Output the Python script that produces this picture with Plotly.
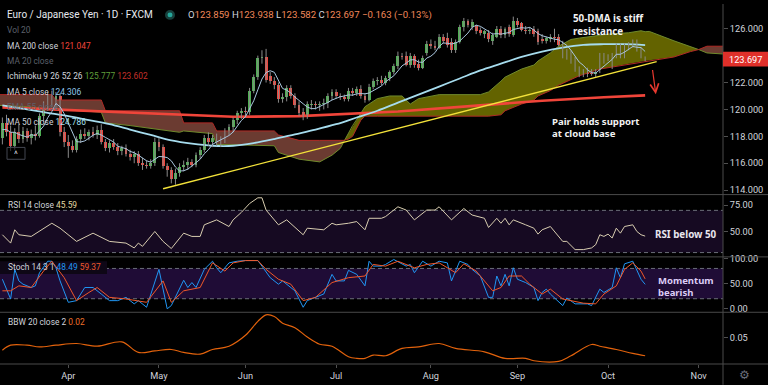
import plotly.graph_objects as go

# ---------------- data ----------------
# bar index 0 = 1 Apr 2020 (daily bars, weekdays only); last bar = 14 Oct 2020
bar_index = list(range(-16, 141))

opens = [117.9, 119.0, 118.3, 117.3, 118.3, 117.8, 118.4, 117.9, 118.2, 118.0, 119.5, 120.2, 121.0, 120.5, 121.0, 118.3,
         117.6, 117.3, 117.0, 117.8, 118.2, 118.0, 118.3, 118.1, 118.5, 117.6,
         117.1, 117.5, 117.2, 116.9, 117.1, 116.7, 116.5, 116.7, 116.0, 115.9,
         115.8, 116.0, 117.6, 117.2, 115.8, 115.5, 114.8, 115.3, 115.7, 115.9,
         116.1, 115.9, 116.6, 117.0, 117.9, 117.6, 117.9, 117.5, 117.8, 118.4,
         118.7, 119.2, 119.7, 119.9, 119.8, 121.4, 122.4, 123.8, 123.9, 122.5,
         122.1, 121.8, 120.8, 120.9, 121.6, 121.0, 120.3, 119.8, 119.5, 120.35,
         120.4, 120.3, 120.4, 120.5, 121.0, 121.3, 121.0, 120.9, 120.8, 121.4,
         121.2, 121.5, 121.0, 120.7, 121.7, 122.1, 122.2, 122.0, 122.3, 122.8,
         123.2, 124.0, 124.0, 123.3, 124.0, 123.4, 123.1, 124.2, 124.9, 124.7,
         124.6, 125.4, 125.3, 125.0, 124.4, 125.0, 126.1, 126.6, 126.1, 126.2,
         125.9, 125.6, 125.7, 125.1, 125.4, 126.0, 125.5, 126.1, 125.5, 126.6,
         126.4, 125.9, 125.8, 126.0, 125.8, 125.2, 125.1, 125.2, 125.4, 125.4,
         124.9, 124.0, 124.2, 123.7, 123.0, 122.7, 122.9, 122.7, 122.6, 122.9,
         123.6, 123.9, 123.3, 124.0, 124.7, 124.0, 124.7, 124.8, 125.0, 124.4,
         123.859]
highs = [119.4, 119.6, 118.8, 118.6, 118.9, 118.7, 118.6, 118.5, 118.8, 119.7, 120.6, 121.3, 121.4, 121.3, 121.2, 118.7,
         118.1, 117.7, 118.0, 118.5, 118.6, 118.5, 118.7, 118.8, 118.9, 117.8,
         117.7, 117.8, 117.5, 117.3, 117.4, 117.0, 116.9, 116.9, 116.4, 116.2,
         116.3, 117.9, 117.9, 117.4, 116.0, 115.7, 115.6, 116.0, 116.2, 116.4,
         116.3, 116.8, 117.2, 118.1, 118.3, 118.1, 118.2, 118.0, 118.6, 118.9,
         119.4, 119.9, 120.1, 120.2, 121.6, 122.6, 124.0, 124.4, 124.5, 122.8,
         122.4, 122.0, 121.2, 121.8, 121.8, 121.2, 120.6, 120.1, 120.6, 120.7,
         120.6, 120.6, 120.8, 121.2, 121.5, 121.5, 121.2, 121.1, 121.6, 121.6,
         121.7, 121.8, 121.2, 121.9, 122.3, 122.4, 122.5, 122.5, 122.9, 123.4,
         124.3, 124.2, 124.3, 124.2, 124.1, 123.7, 124.0, 125.1, 125.2, 125.1,
         125.6, 125.6, 125.7, 125.3, 125.2, 126.3, 126.8, 126.7, 126.7, 126.3,
         126.1, 125.9, 125.9, 125.7, 126.2, 126.2, 126.1, 126.3, 126.9, 126.8,
         126.5, 126.2, 126.1, 126.2, 126.0, 125.6, 125.4, 125.6, 126.0, 125.6,
         125.1, 124.5, 124.4, 123.9, 123.2, 123.0, 123.1, 123.0, 123.0, 124.2,
         124.2, 124.1, 124.2, 124.9, 124.9, 124.9, 125.0, 125.2, 125.2, 124.6,
         123.938]
lows = [117.4, 118.0, 116.9, 117.0, 117.5, 117.5, 117.6, 117.4, 117.7, 117.9, 119.1, 119.9, 120.2, 120.0, 118.0, 117.2,
        116.4, 116.8, 116.8, 117.5, 117.8, 117.7, 117.9, 117.8, 117.4, 116.9,
        116.8, 117.0, 116.6, 116.6, 116.5, 116.2, 116.0, 115.8, 115.5, 115.6,
        115.6, 115.8, 116.9, 115.6, 115.0, 114.5, 114.4, 115.0, 115.4, 115.5,
        115.7, 115.7, 116.3, 116.8, 117.3, 117.2, 117.3, 117.2, 117.5, 118.1,
        118.3, 118.9, 119.3, 119.4, 119.6, 121.2, 122.2, 123.4, 122.0, 121.9,
        121.5, 120.5, 120.5, 120.6, 120.8, 120.1, 119.5, 119.2, 119.3, 120.0,
        120.0, 119.9, 120.0, 120.1, 120.7, 120.8, 120.7, 120.6, 120.6, 121.0,
        121.0, 120.8, 120.5, 120.6, 121.5, 121.8, 121.8, 121.8, 122.1, 122.6,
        123.0, 123.7, 123.2, 123.1, 123.1, 122.9, 123.0, 124.0, 124.5, 124.4,
        124.5, 124.9, 124.6, 124.2, 124.2, 124.9, 125.8, 126.1, 125.9, 125.6,
        125.5, 125.3, 125.0, 124.8, 125.3, 125.3, 125.3, 125.4, 125.4, 126.1,
        125.8, 125.6, 125.6, 125.4, 124.8, 124.9, 124.9, 125.0, 125.0, 124.7,
        123.8, 123.7, 123.4, 122.8, 122.4, 122.4, 122.4, 122.5, 122.4, 122.7,
        123.4, 123.6, 123.0, 123.8, 123.8, 123.8, 124.4, 124.6, 124.3, 123.8,
        123.582]
closes = [119.0, 118.3, 117.3, 118.3, 117.8, 118.4, 117.9, 118.2, 118.0, 119.5, 120.2, 121.0, 120.5, 121.0, 118.3, 117.6,
          117.3, 117.0, 117.8, 118.2, 118.0, 118.3, 118.1, 118.5, 117.6, 117.1,
          117.5, 117.2, 116.9, 117.1, 116.7, 116.5, 116.7, 116.0, 115.9, 115.8,
          116.0, 117.6, 117.2, 115.8, 115.5, 114.8, 115.3, 115.7, 115.9, 116.1,
          115.9, 116.6, 117.0, 117.9, 117.6, 117.9, 117.5, 117.8, 118.4, 118.7,
          119.2, 119.7, 119.9, 119.8, 121.4, 122.4, 123.8, 123.9, 122.2, 122.1,
          121.8, 120.8, 120.9, 121.6, 121.0, 120.3, 119.7, 119.5, 120.4, 120.42,
          120.3, 120.4, 120.5, 121.0, 121.3, 121.0, 120.9, 120.8, 121.4, 121.2,
          121.5, 121.0, 120.7, 121.7, 122.1, 122.2, 122.0, 122.3, 122.8, 123.2,
          124.0, 123.9, 123.3, 124.0, 123.3, 123.1, 123.8, 124.9, 124.7, 124.6,
          125.4, 125.1, 124.8, 124.4, 125.0, 126.1, 126.6, 126.3, 126.5, 125.8,
          125.7, 125.8, 125.2, 125.5, 126.0, 125.5, 126.0, 125.6, 126.6, 126.3,
          125.9, 125.8, 125.9, 125.6, 125.0, 125.1, 125.3, 125.4, 125.3, 124.8,
          124.0, 124.3, 123.6, 123.0, 122.7, 122.8, 122.6, 122.6, 122.8, 124.0,
          124.0, 123.8, 124.0, 124.7, 124.0, 124.8, 124.9, 125.0, 124.4, 123.9,
          123.697]

ma5 = [118.5, 118.5, 118.3, 118.3, 118.14, 118.02, 117.94, 118.12, 118.06, 118.4, 118.76, 119.38, 119.84, 120.44, 120.2, 119.68,
       118.94, 118.24, 117.6, 117.58, 117.66, 117.86, 118.08, 118.22, 118.1, 117.92,
       117.76, 117.58, 117.26, 117.16, 117.08, 116.88, 116.78, 116.6, 116.36, 116.18,
       116.08, 116.26, 116.5, 116.48, 116.42, 116.18, 115.72, 115.42, 115.44, 115.56,
       115.78, 116.04, 116.3, 116.7, 117.0, 117.4, 117.58, 117.74, 117.84, 118.06,
       118.32, 118.76, 119.18, 119.46, 120.0, 120.64, 121.46, 122.26, 122.74, 122.88,
       122.76, 122.16, 121.56, 121.44, 121.22, 120.92, 120.7, 120.42, 120.18, 120.06,
       120.06, 120.2, 120.4, 120.52, 120.7, 120.84, 120.94, 121.0, 121.08, 121.06,
       121.16, 121.18, 121.16, 121.22, 121.4, 121.54, 121.74, 122.06, 122.28, 122.5,
       122.86, 123.24, 123.44, 123.68, 123.7, 123.52, 123.5, 123.82, 123.96, 124.22,
       124.68, 124.94, 124.92, 124.86, 124.94, 125.08, 125.38, 125.68, 126.1, 126.26,
       126.18, 126.02, 125.8, 125.6, 125.64, 125.6, 125.64, 125.72, 125.94, 126.0,
       126.08, 126.04, 126.1, 125.9, 125.64, 125.48, 125.38, 125.28, 125.22, 125.18,
       124.96, 124.76, 124.4, 123.94, 123.52, 123.28, 122.94, 122.74, 122.7, 122.96,
       123.2, 123.44, 123.72, 124.1, 124.1, 124.26, 124.48, 124.68, 124.62, 124.6,
       124.306]

ma50_idx = [-16, -10, -5, 0, 5, 10, 15, 20, 25, 30, 35, 40, 45, 50, 55, 60, 65, 70, 75, 80,
            85, 90, 95, 100, 105, 110, 115, 120, 125, 130, 135, 140]
ma50_val = [120.3, 120.0, 119.75, 119.5, 119.2, 118.9, 118.5, 118.1, 117.7, 117.45, 117.3, 117.3, 117.5, 117.8,
            118.15, 118.5, 118.9, 119.4, 119.9, 120.5, 121.1, 121.7, 122.3, 122.9, 123.4, 123.9, 124.3, 124.6,
            124.8, 124.85, 124.85, 124.786]

ma200_idx = [-16, 0, 20, 40, 56, 80, 100, 115, 130, 140]
ma200_val = [120.15, 119.95, 119.65, 119.45, 119.5, 119.85, 120.3, 120.65, 120.9, 121.047]

# Ichimoku leading spans (already shifted 26 bars forward)
cloud_idx = [-17, -10, -4, -3, 8, 9, 15, 27, 28, 35, 36, 50, 51, 56, 61, 64, 66, 67, 68, 69, 71, 72, 75, 78,
             81, 83, 85, 90, 100, 102, 105, 106, 110, 113, 114, 117, 119, 122, 124, 129, 131, 136, 139, 140,
             141, 147, 151, 153, 155, 160]
lead_a = [120.3, 120.2, 120.0, 120.0, 119.8, 119.0, 118.8, 118.3, 118.4, 118.2, 117.4, 117.3, 116.8, 116.3,
          116.1, 116.6, 117.1, 117.7, 118.2, 118.8, 119.7, 120.2, 120.8, 121.0, 121.0, 120.4, 120.8, 121.1,
          121.1, 121.3, 122.1, 122.4, 123.0, 123.3, 123.6, 124.2, 124.7, 125.2, 125.3, 125.5, 125.6, 125.7,
          125.85, 125.777, 125.8, 125.1, 124.7, 124.45, 124.2, 124.1]
lead_b = [121.1, 121.1, 121.1, 120.7, 120.7, 119.9, 119.9, 119.9, 119.0, 119.0, 118.4, 118.4, 118.1, 117.7,
          117.7, 117.7, 117.7, 117.7, 117.8, 118.0, 119.2, 119.5, 119.5, 119.5, 119.5, 119.5, 119.5, 119.5,
          119.5, 119.5, 119.6, 119.9, 120.4, 120.7, 121.0, 121.4, 121.8, 122.2, 122.5, 123.0, 123.1, 123.4,
          123.55, 123.602, 123.65, 123.9, 124.3, 124.45, 124.7, 124.7]

trend_idx = [23, 142.8]
trend_val = [114.1, 123.55]
arrow_idx = [141.75, 142.6]
arrow_val = [123.04, 121.13]

rsi_idx = [-16, -14, -13, -12, -9, -4, -2, 2, 6, 10, 14, 16, 17, 18, 21, 23, 25, 28, 30, 32,
           33, 36, 39, 40, 42, 44, 46, 47, 48, 51, 53, 57, 58, 62, 64, 65, 68, 70, 72, 73,
           76, 77, 80, 82, 84, 87, 89, 90, 93, 96, 98, 101, 102, 104, 105, 106, 107, 108, 111, 113,
           114, 115, 117, 120, 121, 123, 125, 127, 128, 129, 130, 131, 132, 133, 134, 135, 137, 138, 139, 140]
rsi_val = [46.9, 39.0, 51.6, 46.9, 45.3, 57.8, 53.1, 40.6, 48.4, 40.6, 39.0, 34.4, 39.0, 35.9, 50.0, 40.6, 33.8, 48.4, 45.3, 45.3,
           56.3, 61.0, 54.7, 61.0, 68.1, 76.5, 81.9, 81.9, 70.3, 56.3, 61.0, 46.9, 53.1, 51.6, 57.8, 56.3, 57.8, 59.4, 51.6, 62.5,
           62.5, 64.1, 73.4, 70.3, 61.0, 70.3, 70.3, 73.4, 61.0, 71.8, 65.6, 62.5, 53.8, 62.5, 57.8, 62.5, 56.3, 61.0, 56.3, 53.1,
           47.5, 51.6, 54.7, 40.6, 40.6, 32.8, 32.8, 34.4, 37.5, 46.9, 45.3, 47.5, 43.8, 53.1, 48.4, 54.7, 56.3, 50.0, 46.9, 45.59]

stoch_k_idx = [-16, -14, -13, -12, -11, -9, -8, -7, -5, -4, -3, -2, 0, 2, 4, 6, 8, 10, 12, 14,
               16, 17, 19, 22, 24, 25, 28, 29, 30, 31, 33, 35, 36, 37, 39, 41, 43, 46, 47, 49,
               51, 52, 55, 57, 58, 60, 62, 64, 65, 67, 68, 70, 72, 73, 74, 76, 77, 79, 82, 83,
               84, 86, 88, 90, 92, 93, 95, 97, 98, 100, 102, 103, 104, 105, 106, 107, 108, 109, 111, 113,
               114, 115, 116, 117, 120, 121, 122, 123, 126, 127, 129, 130, 132, 133, 134, 135, 137, 139, 140]
stoch_k_val = [58.6, 19.5, 78.1, 55.3, 48.8, 42.2, 45.5, 71.5, 94.3, 94.3, 81.3, 55.3, 12.9, 16.2, 42.2, 42.2, 29.3, 16.2, 16.2, 22.7,
               9.8, 16.2, 3.1, 78.1, 0.0, 6.4, 56.6, 42.2, 52.0, 42.2, 78.1, 94.3, 81.3, 71.5, 91.0, 94.3, 95.6, 95.6, 84.6, 61.7,
               48.8, 55.3, 35.7, 3.1, 16.2, 22.7, 29.3, 68.3, 55.3, 55.3, 76.2, 68.3, 45.5, 94.3, 84.6, 84.6, 87.9, 97.7, 84.6, 87.9,
               71.5, 94.3, 84.6, 94.3, 91.0, 55.3, 94.3, 87.9, 78.1, 65.0, 22.7, 22.7, 65.0, 45.5, 68.3, 45.5, 81.3, 58.6, 52.0, 42.2,
               16.2, 32.4, 39.0, 29.3, 6.4, 21.5, 16.2, 9.8, 9.8, 6.4, 39.0, 32.4, 42.2, 81.3, 61.7, 89.1, 94.3, 58.6, 48.49]

stoch_d_idx = [-16, -14, -12, -9, -6, -4, -1, 2, 5, 7, 10, 14, 19, 23, 25, 28, 32, 35, 38, 40,
               43, 46, 48, 51, 54, 57, 60, 64, 68, 72, 74, 77, 80, 84, 87, 90, 94, 96, 99, 103,
               105, 107, 110, 112, 115, 117, 120, 122, 125, 128, 130, 133, 135, 137, 139, 140]
stoch_d_val = [35.7, 35.7, 45.5, 42.2, 74.8, 94.3, 61.7, 16.2, 32.4, 42.2, 22.7, 19.5, 12.9, 55.3, 12.9, 35.7, 42.2, 91.0, 74.8, 91.0,
               95.6, 95.6, 78.1, 58.6, 48.8, 16.2, 22.7, 52.0, 61.7, 65.0, 87.9, 84.6, 94.3, 81.3, 87.9, 91.0, 71.5, 89.1, 74.8, 35.7,
               42.2, 65.0, 65.0, 48.8, 29.3, 39.0, 19.5, 16.2, 11.2, 9.8, 29.3, 45.5, 78.1, 91.0, 74.8, 59.37]

bbw_idx = [-16, -14, -10, -7, -3, 2, 7, 13, 17, 21, 25, 28, 32, 35, 39, 43, 46, 48, 50, 52,
           55, 58, 61, 64, 68, 70, 72, 74, 77, 81, 85, 90, 94, 101, 106, 111, 113, 119, 122, 127,
           129, 133, 137, 140]
bbw_val = [0.0324, 0.0396, 0.0396, 0.0371, 0.0396, 0.042, 0.0381, 0.0443, 0.0291, 0.0314, 0.0334, 0.0291, 0.0267, 0.0334,
           0.0381, 0.0539, 0.0739, 0.0834, 0.081, 0.0714, 0.0649, 0.0514, 0.041, 0.0381, 0.0229, 0.0206, 0.0206, 0.0253,
           0.0243, 0.0349, 0.0371, 0.042, 0.0349, 0.03, 0.0206, 0.0206, 0.0171, 0.0163, 0.0243, 0.0406, 0.0381, 0.0334,
           0.0277, 0.0243]

month_idx = [0, 22, 43, 65, 88, 109, 131, 153]
month_lbl = ["Apr", "May", "Jun", "Jul", "Aug", "Sep", "Oct", "Nov"]
price_ticks = [114, 116, 118, 120, 122, 126]
last_price = 123.697

# ---------------- style ----------------
W, H = 768, 385
PW, PH = 723, 364            # plot area in pixels
BG = "#000000"
TXT = "#d1d4dc"
DIM = "#5d606b"
UP = "#4caf50"
DN = "#f0433a"
WICK = "#8a8a8a"
OLIVE = "#636300"
BROWN = "#6b3b31"
FONT = "Roboto, sans-serif"
NOTE = "Noto Sans, sans-serif"
AX = 9.2     # axis label size
LG = 8.4     # legend size


def px(x):
    return x / PW


def py(y):
    return (PH - y) / PH


fig = go.Figure()

# ---- Ichimoku cloud ----
cross = [k for k in range(len(cloud_idx)) if abs(lead_a[k] - lead_b[k]) < 1e-9]
bounds = [0] + cross + [len(cloud_idx) - 1]
for s, e in zip(bounds[:-1], bounds[1:]):
    xs = cloud_idx[s:e + 1]
    a = lead_a[s:e + 1]
    b = lead_b[s:e + 1]
    bull = sum(a) > sum(b)
    fig.add_trace(go.Scatter(x=xs + xs[::-1], y=a + b[::-1], mode="lines", fill="toself",
                             fillcolor=OLIVE if bull else BROWN, line=dict(width=0),
                             hoverinfo="skip", yaxis="y"))
fig.add_trace(go.Scatter(x=cloud_idx, y=lead_a, mode="lines", line=dict(color="#6f8a2c", width=1),
                         hoverinfo="skip", yaxis="y"))
fig.add_trace(go.Scatter(x=cloud_idx, y=lead_b, mode="lines", line=dict(color="#b02a26", width=1),
                         hoverinfo="skip", yaxis="y"))

# ---- moving averages ----
fig.add_trace(go.Scatter(x=ma200_idx, y=ma200_val, mode="lines", line=dict(color="#f0453a", width=2.6),
                         hoverinfo="skip", yaxis="y"))
fig.add_trace(go.Scatter(x=ma50_idx, y=ma50_val, mode="lines", line=dict(color="#a6dcee", width=1.8, shape="spline"),
                         hoverinfo="skip", yaxis="y"))

# ---- candles: wicks + bodies ----
wx, wy = [], []
for i, h, l in zip(bar_index, highs, lows):
    wx += [i, i, None]
    wy += [l, h, None]
fig.add_trace(go.Scatter(x=wx, y=wy, mode="lines", line=dict(color=WICK, width=1), hoverinfo="skip", yaxis="y"))
body_base = [min(o, c) for o, c in zip(opens, closes)]
body_len = [max(abs(c - o), 0.07) for o, c in zip(opens, closes)]
body_col = [UP if c >= o else DN for o, c in zip(opens, closes)]
fig.add_trace(go.Bar(x=bar_index, y=body_len, base=body_base, width=0.7, marker=dict(color=body_col, line=dict(width=0)),
                     hoverinfo="skip", yaxis="y"))

fig.add_trace(go.Scatter(x=bar_index, y=ma5, mode="lines", line=dict(color="#a9c6de", width=1),
                         hoverinfo="skip", yaxis="y"))
fig.add_trace(go.Scatter(x=trend_idx, y=trend_val, mode="lines", line=dict(color="#f3e23a", width=1.4),
                         hoverinfo="skip", yaxis="y"))

# ---- RSI ----
fig.add_trace(go.Scatter(x=rsi_idx, y=rsi_val, mode="lines", line=dict(color="#d8cdb0", width=1),
                         hoverinfo="skip", yaxis="y2"))
# ---- Stoch ----
fig.add_trace(go.Scatter(x=stoch_k_idx, y=stoch_k_val, mode="lines", line=dict(color="#2196f3", width=1),
                         hoverinfo="skip", yaxis="y3"))
fig.add_trace(go.Scatter(x=stoch_d_idx, y=stoch_d_val, mode="lines", line=dict(color="#f0582a", width=1),
                         hoverinfo="skip", yaxis="y3"))
# ---- BBW ----
fig.add_trace(go.Scatter(x=bbw_idx, y=bbw_val, mode="lines", line=dict(color="#e2620c", width=1.2, shape="spline"),
                         hoverinfo="skip", yaxis="y4"))

# ---------------- axes ----------------
ytick = dict(size=AX, color=TXT, family=FONT)
common_y = dict(side="right", anchor="x", showgrid=False, zeroline=False, ticks="outside", ticklen=4,
                tickcolor="#505050", tickfont=ytick, showline=False, fixedrange=True)
sep1, sep2, sep3 = py(192.7), py(255.7), py(311.7)

fig.update_layout(
    width=W, height=H, margin=dict(l=0, r=W - PW, t=0, b=H - PH),
    paper_bgcolor=BG, plot_bgcolor=BG, showlegend=False, bargap=0,
    xaxis=dict(range=[-16.58, 158.9], anchor="y4", tickvals=month_idx, ticktext=month_lbl,
               showgrid=False, zeroline=False, ticks="outside", ticklen=3, tickcolor="#505050",
               tickfont=dict(size=AX, color=TXT, family=FONT), showline=False, fixedrange=True),
    yaxis=dict(domain=[sep1, 1], range=[113.669, 127.838], tickvals=price_ticks, tickformat=".3f", **common_y),
    yaxis2=dict(domain=[sep2, sep1], range=[25.91, 84.96], tickvals=[50, 75], tickformat=".2f", **common_y),
    yaxis3=dict(domain=[sep3, sep2], range=[-6.86, 102.9], tickvals=[0, 50, 100], tickformat=".2f", **common_y),
    yaxis4=dict(domain=[0, sep3], range=[0.01243, 0.0871], tickvals=[0.05], tickformat=".2f", **common_y),
)

shapes = []
# indicator bands
shapes.append(dict(type="rect", xref="paper", x0=0, x1=1, yref="y2", y0=30, y1=70, fillcolor="#160a22",
                   line=dict(width=0), layer="below"))
shapes.append(dict(type="rect", xref="paper", x0=0, x1=1, yref="y3", y0=20, y1=80, fillcolor="#1f0c36",
                   line=dict(width=0), layer="below"))
for yr, lv in (("y2", 70), ("y2", 30), ("y3", 80), ("y3", 20)):
    shapes.append(dict(type="line", xref="paper", x0=0, x1=1, yref=yr, y0=lv, y1=lv,
                       line=dict(color="#6a6d78", width=1, dash="4px,3px"), layer="below"))
# dark box behind the stoch legend
shapes.append(dict(type="rect", xref="paper", yref="paper", x0=0, x1=px(107), y0=py(273), y1=py(260),
                   fillcolor="#0e0716", line=dict(width=0), layer="below"))
# panel separators and price-axis border
for yy in (sep1, sep2, sep3, 0):
    shapes.append(dict(type="line", xref="paper", yref="paper", x0=0, x1=W / PW, y0=yy, y1=yy,
                       line=dict(color="#4a4a4a", width=1), layer="above"))
shapes.append(dict(type="line", xref="paper", yref="paper", x0=1, x1=1, y0=py(H), y1=1,
                   line=dict(color="#4a4a4a", width=1), layer="above"))
# last price label
shapes.append(dict(type="rect", xref="paper", yref="paper", x0=1, x1=W / PW, y0=py(63.3), y1=py(48.3),
                   fillcolor="#e0302a", line=dict(width=0), layer="above"))
# status dot in header
shapes.append(dict(type="circle", xref="paper", yref="paper", x0=px(165), x1=px(175), y0=py(16), y1=py(6),
                   fillcolor="#17403c", line=dict(width=0), layer="above"))
shapes.append(dict(type="circle", xref="paper", yref="paper", x0=px(167.5), x1=px(172.5), y0=py(13.5), y1=py(8.5),
                   fillcolor="#26a69a", line=dict(width=0), layer="above"))
# collapse button
shapes.append(dict(type="rect", xref="paper", yref="paper", x0=px(7), x1=px(25), y0=py(157), y1=py(145),
                   fillcolor="rgba(0,0,0,0.6)", line=dict(color="#434651", width=1), layer="above"))
fig.update_layout(shapes=shapes)

ann = []


def txt(x, y, text, size=LG, color=TXT, family=FONT, anchor="left", align="left"):
    ann.append(dict(xref="paper", yref="paper", x=px(x), y=py(y), text=text, showarrow=False,
                    xanchor=anchor, yanchor="middle", align=align,
                    font=dict(size=size, color=color, family=family)))


def col(t, c):
    return "<span style='color:%s'>%s</span>" % (c, t)


ORANGE = "#f0895a"
txt(5, 11, "Euro / Japanese Yen · 1D · FXCM", size=10, color="#e6e8ee")
txt(186, 11, "O" + col("123.859", ORANGE) + " H" + col("123.938", ORANGE) + " L" + col("123.582", ORANGE)
    + " C" + col("123.697", ORANGE) + " " + col("−0.163 (−0.13%)", ORANGE), size=9.6)
txt(5, 26.5, "Vol 20", color=DIM)
txt(5, 42, "MA 200 close " + col("121.047", "#f2453b"))
txt(5, 57.5, "MA 20 close", color=DIM)
txt(5, 73, "Ichimoku 9 26 52 26 " + col("125.777", "#5f9e3a") + " " + col("123.602", "#c4302b"))
txt(5, 88.5, "MA 5 close " + col("124.306", "#8fc8ec"))
txt(5, 104, "EMA 55 close", color=DIM)
txt(5, 119.5, "MA 50 close " + col("124.786", "#a8e2f2"))
txt(16, 151.5, "^", size=9, color=TXT, anchor="center")

txt(6, 203.3, "RSI 14 close " + col("45.59", "#e3d9a0"))
txt(6, 266, "Stoch 14 3 1 " + col("48.49", "#2196f3") + " " + col("59.37", "#f0582a"))
txt(6, 322, "BBW 20 close 2 " + col("0.02", "#f0702a"))

# chart notes
txt(571, 21.5, "<b>50-DMA is stiff<br>resistance</b>", size=9.8, color="#f2f2f2", family=NOTE)
txt(550, 124.8, "<b>Pair holds support<br>at cloud base</b>", size=9.6, color="#f2f2f2", family=NOTE)
txt(653, 233, "<b>RSI below 50</b>", size=9.8, color="#e8e6ee", family=NOTE)
txt(656, 285.8, "<b>Momentum<br>bearish</b>", size=9.5, color="#dccdf6", family=NOTE)

# last price text and settings glyph
txt(745.5, 55.8, "123.697", size=AX, color="#ffffff", anchor="center")
txt(745, 375, "⚙", size=12, color="#6a6d78", family="DejaVu Sans", anchor="center")

# red arrow drawing
ann.append(dict(xref="x", yref="y", x=arrow_idx[1], y=arrow_val[1], axref="x", ayref="y",
                ax=arrow_idx[0], ay=arrow_val[0], showarrow=True, arrowhead=5, arrowsize=1.4,
                arrowwidth=1.2, arrowcolor="#e8392f", text=""))
fig.update_layout(annotations=ann)

fig.write_html("out.html", config={"displayModeBar": False, "staticPlot": True},
               post_script="document.body.style.margin='0';document.body.style.background='#000';")
